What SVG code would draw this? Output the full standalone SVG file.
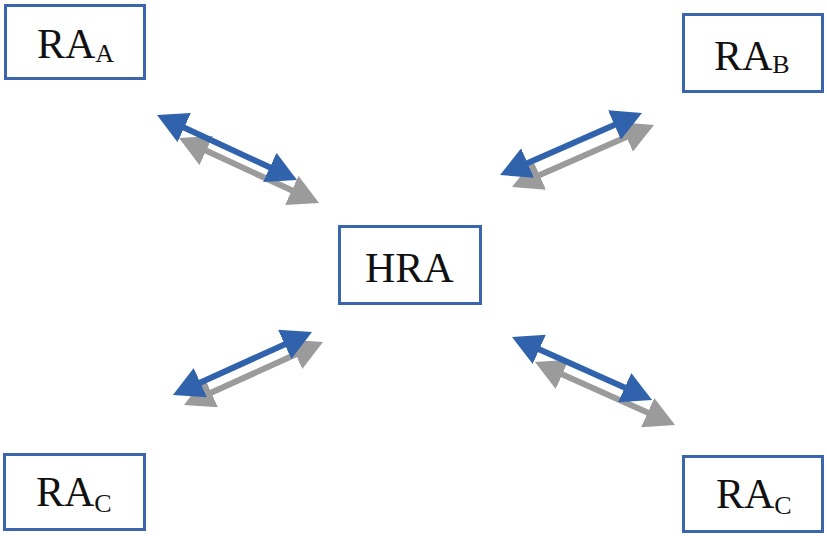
<svg xmlns="http://www.w3.org/2000/svg" width="827" height="536" viewBox="0 0 827 536">
<style>
.box{fill:#ffffff;stroke:#3A66AD;stroke-width:3}
.lbl{font-family:"Liberation Serif","Times New Roman",serif;font-size:42px;fill:#111111}
.sub{font-size:26px}
.blue{stroke:#3163AC;stroke-width:6;fill:none;marker-start:url(#hb);marker-end:url(#hb)}
.gray{stroke:#9B9B9B;stroke-width:6;fill:none;marker-start:url(#hg);marker-end:url(#hg)}
</style>
<defs>
<marker id="hb" viewBox="0 0 30 32" refX="1" refY="16" markerWidth="30" markerHeight="32" markerUnits="userSpaceOnUse" orient="auto-start-reverse"><path d="M0,0 L30,16 L0,32 z" fill="#3163AC"/></marker>
<marker id="hg" viewBox="0 0 30 32" refX="1" refY="16" markerWidth="30" markerHeight="32" markerUnits="userSpaceOnUse" orient="auto-start-reverse"><path d="M0,0 L30,16 L0,32 z" fill="#9B9B9B"/></marker>
</defs>
<rect width="827" height="536" fill="#ffffff"/>
<g id="connectors">
<line class="gray" x1="205.3" y1="150.2" x2="292.7" y2="190.8"/>
<line class="blue" x1="183.3" y1="127.2" x2="270.7" y2="167.8"/>
<line class="gray" x1="538.6" y1="175.4" x2="627.4" y2="136.6"/>
<line class="blue" x1="526.6" y1="163.4" x2="615.4" y2="124.6"/>
<line class="gray" x1="210.4" y1="393.0" x2="296.6" y2="354.0"/>
<line class="blue" x1="199.4" y1="383.0" x2="285.6" y2="344.0"/>
<line class="gray" x1="561.4" y1="373.9" x2="648.6" y2="413.1"/>
<line class="blue" x1="538.4" y1="348.9" x2="625.6" y2="388.1"/>
</g>
<g id="RA_A">
<rect class="box" x="5.5" y="5.5" width="139" height="73"/>
<text class="lbl" x="37" y="58">RA<tspan class="sub" dy="4">A</tspan></text>
</g>
<g id="RA_B">
<rect class="box" x="683.5" y="14.5" width="139" height="77"/>
<text class="lbl" x="714" y="70">RA<tspan class="sub" dy="3">B</tspan></text>
</g>
<g id="HRA">
<rect class="box" x="339.5" y="226.5" width="141" height="77"/>
<text class="lbl" x="365" y="282">HRA</text>
</g>
<g id="RA_C_left">
<rect class="box" x="4.5" y="454.5" width="140" height="75"/>
<text class="lbl" x="36" y="506">RA<tspan class="sub" dy="6">C</tspan></text>
</g>
<g id="RA_C_right">
<rect class="box" x="683.5" y="456.5" width="139" height="75"/>
<text class="lbl" x="716" y="508">RA<tspan class="sub" dy="6">C</tspan></text>
</g>
</svg>
